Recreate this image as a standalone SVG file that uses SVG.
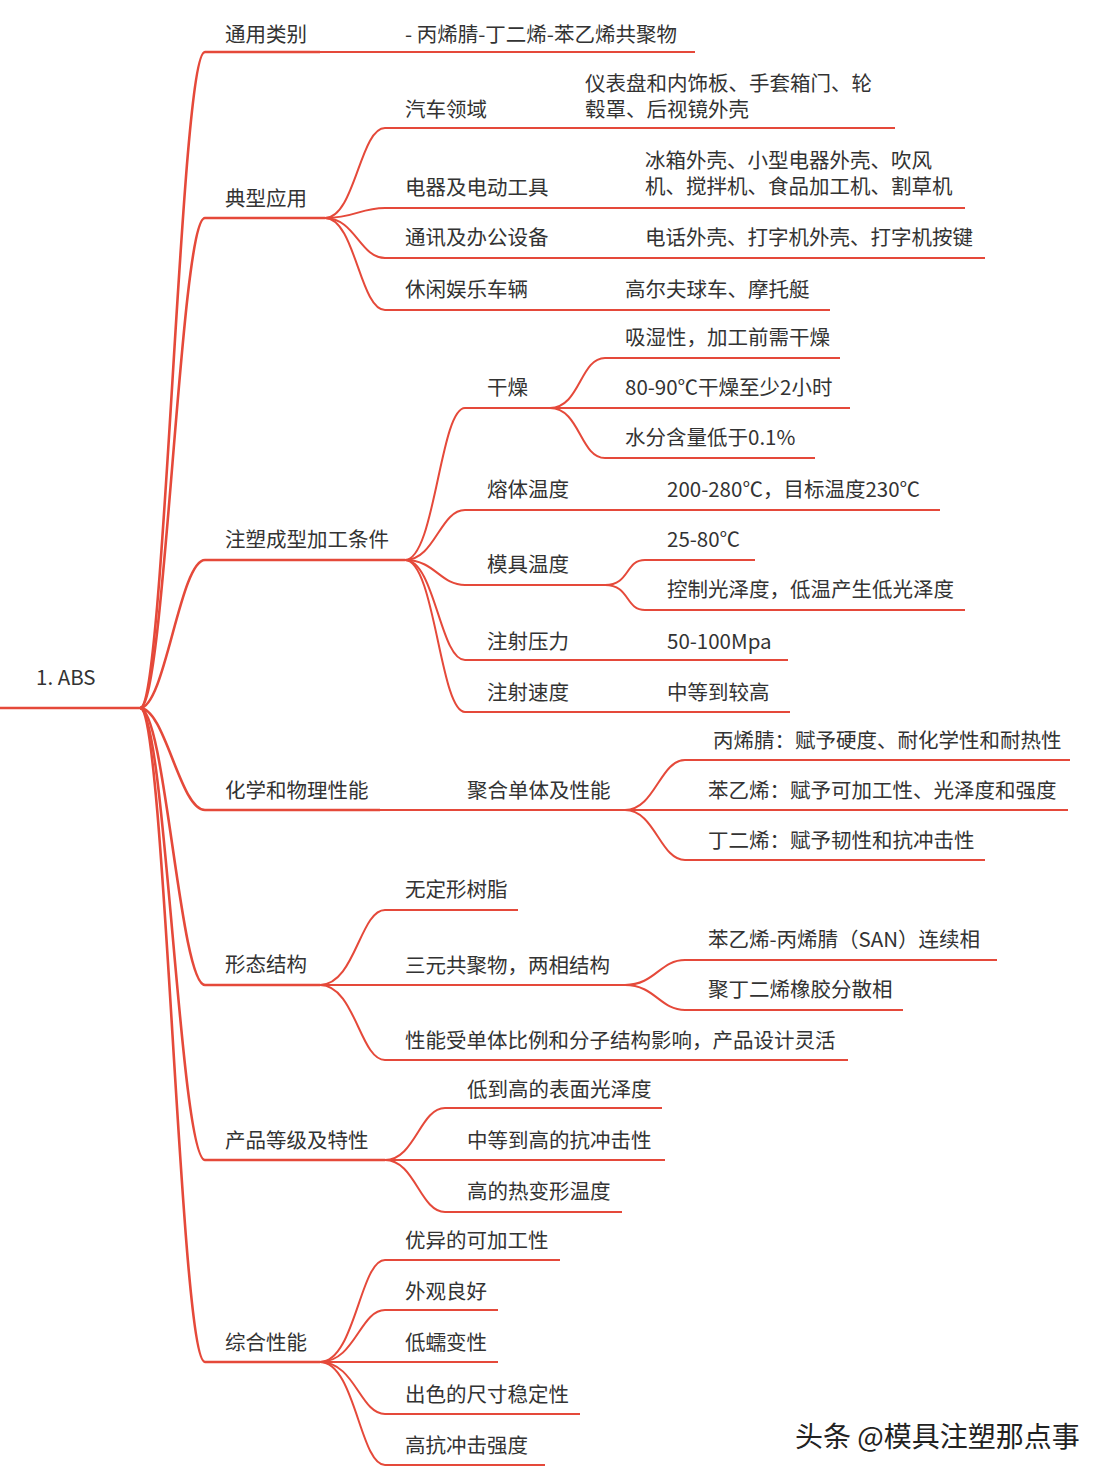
<svg xmlns="http://www.w3.org/2000/svg" width="1108" height="1478" viewBox="0 0 1108 1478">
<style>
text{font-family:"Noto Sans CJK SC","Noto Sans",sans-serif;font-size:20.5px;fill:#333}
.l{stroke:#e5493a;stroke-width:2;fill:none}
.r{stroke:#e5493a;stroke-width:2.6;fill:none}
.wm{font-size:28px;fill:#222;stroke:#fff;stroke-width:3;paint-order:stroke}
</style>
<rect width="1108" height="1478" fill="#fff"/>
<g id="connectors">
<path class="r" d="M0 708H140"/>
<path class="r" d="M140 708C165 708 180 52 205 52"/>
<path class="r" d="M140 708C165 708 180 218 205 218"/>
<path class="r" d="M140 708C165 708 180 560 205 560"/>
<path class="r" d="M140 708C165 708 180 810 205 810"/>
<path class="r" d="M140 708C165 708 180 985 205 985"/>
<path class="r" d="M140 708C165 708 180 1160 205 1160"/>
<path class="r" d="M140 708C165 708 180 1362 205 1362"/>
<path class="l" d="M325 218C355 218 360 128 385 128"/>
<path class="l" d="M325 218C355 218 360 208 385 208"/>
<path class="l" d="M325 218C355 218 360 258 385 258"/>
<path class="l" d="M325 218C355 218 360 310 385 310"/>
<path class="l" d="M565 128H585"/>
<path class="l" d="M405 560C435 560 440 408 465 408"/>
<path class="l" d="M405 560C435 560 440 510 465 510"/>
<path class="l" d="M405 560C435 560 440 585 465 585"/>
<path class="l" d="M405 560C435 560 440 660 465 660"/>
<path class="l" d="M405 560C435 560 440 712 465 712"/>
<path class="l" d="M550 408C580 408 580 358 605 358"/>
<path class="l" d="M550 408H605"/>
<path class="l" d="M550 408C580 408 580 458 605 458"/>
<path class="l" d="M605 585C630 585 625 560 645 560"/>
<path class="l" d="M605 585C630 585 625 610 645 610"/>
<path class="l" d="M380 810H445"/>
<path class="l" d="M625 810C655 810 660 760 685 760"/>
<path class="l" d="M625 810H685"/>
<path class="l" d="M625 810C655 810 660 860 685 860"/>
<path class="l" d="M320 985C355 985 360 910 385 910"/>
<path class="l" d="M320 985H385"/>
<path class="l" d="M320 985C355 985 360 1060 385 1060"/>
<path class="l" d="M625 985C655 985 660 960 685 960"/>
<path class="l" d="M625 985C655 985 660 1010 685 1010"/>
<path class="l" d="M385 1160C415 1160 420 1108 445 1108"/>
<path class="l" d="M385 1160H445"/>
<path class="l" d="M385 1160C415 1160 420 1212 445 1212"/>
<path class="l" d="M320 1362C355 1362 360 1260 385 1260"/>
<path class="l" d="M320 1362C355 1362 360 1310 385 1310"/>
<path class="l" d="M320 1362H385"/>
<path class="l" d="M320 1362C355 1362 360 1414 385 1414"/>
<path class="l" d="M320 1362C355 1362 360 1465 385 1465"/>
</g>
<g id="root"><text x="36" y="685" font-size="23">1. ABS</text></g>
<g id="n1"><path class="r" d="M205 52H320"/><text x="225" y="42">通用类别</text></g>
<g id="n1a"><path class="l" d="M320 52H695"/><text x="405" y="42">- 丙烯腈-丁二烯-苯乙烯共聚物</text></g>
<g id="n2"><path class="r" d="M205 218H325"/><text x="225" y="206">典型应用</text></g>
<g id="n2a"><path class="l" d="M385 128H565"/><text x="405" y="117">汽车领域</text></g>
<g id="n2a1"><path class="l" d="M565 128H895"/><text x="585" y="91">仪表盘和内饰板、手套箱门、轮</text><text x="585" y="117">毂罩、后视镜外壳</text></g>
<g id="n2b"><path class="l" d="M385 208H965"/><text x="405" y="195">电器及电动工具</text></g>
<g id="n2b1"><text x="645" y="168">冰箱外壳、小型电器外壳、吹风</text><text x="645" y="194">机、搅拌机、食品加工机、割草机</text></g>
<g id="n2c"><path class="l" d="M385 258H985"/><text x="405" y="245">通讯及办公设备</text></g>
<g id="n2c1"><text x="645" y="245">电话外壳、打字机外壳、打字机按键</text></g>
<g id="n2d"><path class="l" d="M385 310H830"/><text x="405" y="297">休闲娱乐车辆</text></g>
<g id="n2d1"><text x="625" y="297">高尔夫球车、摩托艇</text></g>
<g id="n3"><path class="r" d="M205 560H405"/><text x="225" y="547">注塑成型加工条件</text></g>
<g id="n3a"><path class="l" d="M465 408H550"/><text x="487" y="395">干燥</text></g>
<g id="n3a1"><path class="l" d="M605 358H840"/><text x="625" y="345">吸湿性，加工前需干燥</text></g>
<g id="n3a2"><path class="l" d="M605 408H850"/><text x="625" y="395">80-90℃干燥至少2小时</text></g>
<g id="n3a3"><path class="l" d="M605 458H815"/><text x="625" y="445">水分含量低于0.1%</text></g>
<g id="n3b"><path class="l" d="M465 510H940"/><text x="487" y="497">熔体温度</text><text x="667" y="497">200-280℃，目标温度230℃</text></g>
<g id="n3c"><path class="l" d="M465 585H605"/><text x="487" y="572">模具温度</text></g>
<g id="n3c1"><path class="l" d="M645 560H755"/><text x="667" y="547">25-80℃</text></g>
<g id="n3c2"><path class="l" d="M645 610H965"/><text x="667" y="597">控制光泽度，低温产生低光泽度</text></g>
<g id="n3d"><path class="l" d="M465 660H788"/><text x="487" y="649">注射压力</text><text x="667" y="649">50-100Mpa</text></g>
<g id="n3e"><path class="l" d="M465 712H790"/><text x="487" y="700">注射速度</text><text x="667" y="700">中等到较高</text></g>
<g id="n4"><path class="r" d="M205 810H380"/><text x="225" y="798">化学和物理性能</text></g>
<g id="n4a"><path class="l" d="M445 810H625"/><text x="467" y="798">聚合单体及性能</text></g>
<g id="n4a1"><path class="l" d="M685 760H1070"/><text x="713" y="748">丙烯腈：赋予硬度、耐化学性和耐热性</text></g>
<g id="n4a2"><path class="l" d="M685 810H1068"/><text x="708" y="798">苯乙烯：赋予可加工性、光泽度和强度</text></g>
<g id="n4a3"><path class="l" d="M685 860H985"/><text x="708" y="848">丁二烯：赋予韧性和抗冲击性</text></g>
<g id="n5"><path class="r" d="M205 985H320"/><text x="225" y="972">形态结构</text></g>
<g id="n5a"><path class="l" d="M385 910H518"/><text x="405" y="897">无定形树脂</text></g>
<g id="n5b"><path class="l" d="M385 985H625"/><text x="405" y="973">三元共聚物，两相结构</text></g>
<g id="n5b1"><path class="l" d="M685 960H997"/><text x="708" y="947">苯乙烯-丙烯腈（SAN）连续相</text></g>
<g id="n5b2"><path class="l" d="M685 1010H903"/><text x="708" y="997">聚丁二烯橡胶分散相</text></g>
<g id="n5c"><path class="l" d="M385 1060H848"/><text x="405" y="1048">性能受单体比例和分子结构影响，产品设计灵活</text></g>
<g id="n6"><path class="r" d="M205 1160H385"/><text x="225" y="1148">产品等级及特性</text></g>
<g id="n6a"><path class="l" d="M445 1108H662"/><text x="467" y="1097">低到高的表面光泽度</text></g>
<g id="n6b"><path class="l" d="M445 1160H665"/><text x="467" y="1148">中等到高的抗冲击性</text></g>
<g id="n6c"><path class="l" d="M445 1212H622"/><text x="467" y="1199">高的热变形温度</text></g>
<g id="n7"><path class="r" d="M205 1362H320"/><text x="225" y="1350">综合性能</text></g>
<g id="n7a"><path class="l" d="M385 1260H560"/><text x="405" y="1248">优异的可加工性</text></g>
<g id="n7b"><path class="l" d="M385 1310H498"/><text x="405" y="1299">外观良好</text></g>
<g id="n7c"><path class="l" d="M385 1362H498"/><text x="405" y="1350">低蠕变性</text></g>
<g id="n7d"><path class="l" d="M385 1414H580"/><text x="405" y="1402">出色的尺寸稳定性</text></g>
<g id="n7e"><path class="l" d="M385 1465H545"/><text x="405" y="1453">高抗冲击强度</text></g>
<text class="wm" x="795" y="1447">头条 @模具注塑那点事</text>
</svg>
